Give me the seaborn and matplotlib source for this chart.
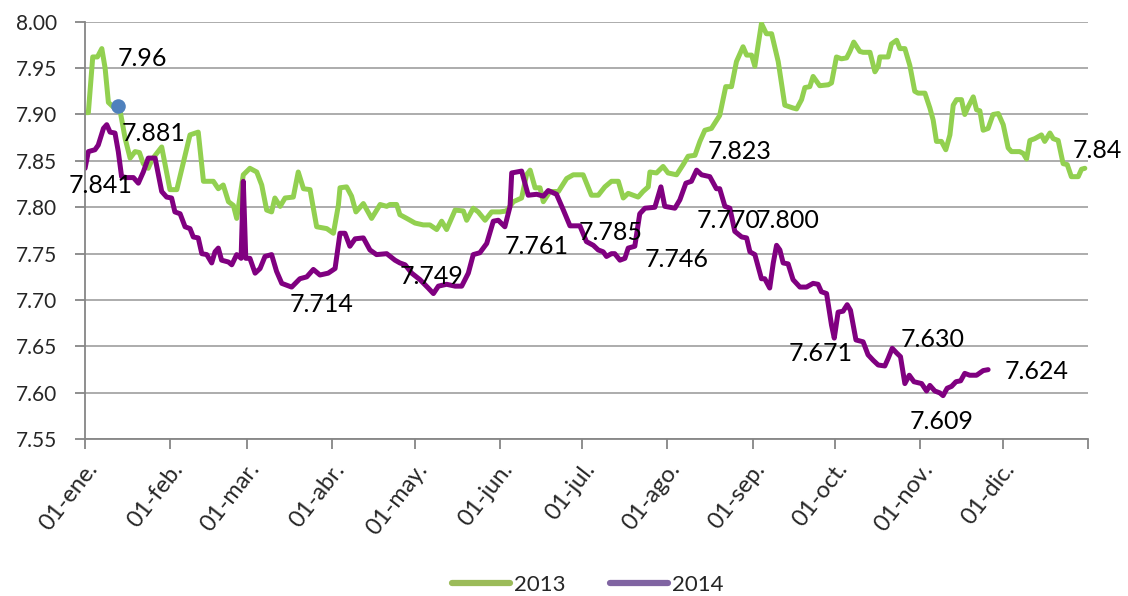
import matplotlib

matplotlib.use("Agg")

import matplotlib.pyplot as plt
import pandas as pd
import seaborn as sns
from matplotlib.lines import Line2D

# day of year (0 = 01-ene.) and value
DAYS_2013 = [
    0, 1.2, 2.8, 4.5, 6.1, 7.3, 8.5, 10.3, 12.7, 14.6, 16.4, 18.2, 19.8, 21.2,
    23.0, 24.5, 27.9, 30.9, 33.4, 38.2, 41.2, 43.1, 46.7, 48.5, 50.3, 52.2,
    54.0, 55.2, 57.6, 60.0, 62.5, 64.3, 66.1, 67.9, 69.1, 71.0, 72.8, 75.8,
    77.6, 79.5, 81.9, 84.3, 88.0, 90.4, 92.2, 92.8, 95.2, 97.0, 98.6, 101.3,
    104.3, 107.4, 109.8, 111.0, 113.4, 114.6, 117.1, 120.1, 123.1, 125.5,
    128.0, 129.8, 131.6, 134.7, 137.7, 138.9, 141.3, 143.1, 145.6, 148.0,
    151.0, 153.4, 155.9, 158.9, 160.7, 162.0, 163.8, 165.6, 166.8, 169.2,
    172.3, 175.3, 177.7, 181.3, 184.3, 186.8, 189.2, 191.6, 194.1, 195.9,
    197.7, 201.3, 203.1, 205.0, 205.6, 208.0, 210.4, 212.2, 215.3, 217.7,
    219.5, 222.0, 223.8, 225.6, 228.0, 231.0, 233.2, 235.3, 237.1, 239.5,
    240.8, 242.6, 243.8, 246.2, 248.0, 249.9, 252.3, 254.7, 257.7, 259.0,
    260.8, 262.0, 263.8, 265.0, 267.4, 270.5, 271.7, 273.5, 275.3, 277.2,
    278.4, 279.8, 282.0, 283.2, 285.7, 287.5, 288.7, 289.3, 292.3, 293.5,
    295.4, 296.6, 298.4, 300.2, 302.0, 303.2, 305.7, 307.5, 308.7, 309.9,
    311.7, 313.3, 314.8, 316.0, 317.2, 319.0, 320.2, 321.4, 323.3, 324.5,
    325.7, 326.9, 328.7, 330.5, 332.4, 334.2, 336.0, 337.2, 340.2, 341.5,
    342.7, 343.9, 345.7, 348.1, 349.3, 351.2, 352.4, 354.2, 356.0, 357.5,
    359.0, 361.5, 362.7, 363.9,
]
VALUES_2013 = [
    7.902, 7.902, 7.962, 7.962, 7.971, 7.950, 7.913, 7.908, 7.905, 7.874,
    7.853, 7.860, 7.859, 7.847, 7.842, 7.852, 7.865, 7.819, 7.819, 7.878,
    7.881, 7.828, 7.828, 7.820, 7.824, 7.806, 7.802, 7.788, 7.835, 7.842,
    7.838, 7.824, 7.797, 7.795, 7.810, 7.801, 7.810, 7.811, 7.838, 7.820,
    7.819, 7.779, 7.777, 7.772, 7.802, 7.821, 7.822, 7.812, 7.795, 7.804,
    7.788, 7.803, 7.801, 7.803, 7.803, 7.792, 7.788, 7.783, 7.781, 7.781,
    7.776, 7.785, 7.776, 7.797, 7.796, 7.786, 7.799, 7.795, 7.786, 7.795,
    7.795, 7.796, 7.806, 7.810, 7.835, 7.840, 7.821, 7.821, 7.806, 7.817,
    7.817, 7.831, 7.835, 7.835, 7.813, 7.813, 7.822, 7.828, 7.828, 7.810,
    7.815, 7.811, 7.817, 7.822, 7.838, 7.837, 7.844, 7.837, 7.835, 7.846,
    7.855, 7.856, 7.871, 7.883, 7.885, 7.899, 7.930, 7.930, 7.957, 7.973,
    7.964, 7.964, 7.952, 7.998, 7.987, 7.987, 7.957, 7.910, 7.907, 7.906,
    7.916, 7.929, 7.930, 7.941, 7.931, 7.932, 7.934, 7.962, 7.960, 7.961,
    7.968, 7.978, 7.968, 7.967, 7.967, 7.946, 7.952, 7.962, 7.962, 7.976,
    7.980, 7.971, 7.971, 7.953, 7.925, 7.923, 7.923, 7.907, 7.894, 7.871,
    7.871, 7.862, 7.878, 7.910, 7.916, 7.916, 7.900, 7.908, 7.919, 7.905,
    7.904, 7.883, 7.885, 7.900, 7.901, 7.889, 7.864, 7.860, 7.860, 7.858,
    7.852, 7.872, 7.874, 7.878, 7.871, 7.880, 7.874, 7.872, 7.847, 7.846,
    7.833, 7.833, 7.841, 7.842,
]

DAYS_2014 = [
    0, 1.2, 3.6, 4.8, 6.7, 7.9, 9.1, 10.9, 12.1, 13.3, 15.2, 17.6, 19.4, 21.2,
    23.0, 25.5, 27.9, 29.7, 31.5, 32.7, 34.6, 36.4, 38.2, 39.4, 41.2, 42.5,
    44.3, 46.1, 47.3, 48.5, 49.7, 52.2, 53.4, 55.2, 56.8, 57.6, 58.5, 60.0,
    61.9, 63.7, 65.5, 67.9, 69.7, 71.6, 75.2, 78.2, 80.7, 83.1, 85.5, 88.5,
    91.0, 92.8, 94.6, 96.4, 98.3, 101.3, 103.7, 106.1, 109.8, 112.8, 114.6,
    116.5, 118.9, 121.9, 124.9, 126.8, 128.6, 131.6, 134.7, 137.1, 139.5,
    141.3, 143.7, 146.2, 148.6, 150.4, 152.8, 154.7, 155.3, 158.9, 161.3,
    164.4, 166.8, 168.6, 171.6, 174.1, 176.5, 180.1, 182.5, 185.0, 186.8,
    188.6, 189.8, 191.6, 192.8, 194.7, 196.5, 197.7, 200.1, 201.9, 203.8,
    207.4, 209.6, 211.0, 214.7, 216.5, 218.7, 220.7, 222.6, 224.4, 227.4,
    229.8, 231.0, 232.9, 234.7, 236.5, 239.0, 240.8, 242.0, 243.8, 246.2,
    247.4, 249.2, 250.5, 251.7, 252.9, 254.1, 255.9, 257.7, 260.2, 262.6,
    265.0, 266.8, 268.0, 269.9, 271.7, 272.7, 274.1, 275.9, 277.4, 278.6,
    280.6, 283.2, 285.0, 286.9, 288.7, 291.1, 292.3, 293.8, 295.4, 296.8,
    298.4, 300.0, 301.7, 304.5, 306.3, 307.5, 309.3, 311.1, 312.3, 313.8,
    315.4, 317.0, 318.7, 320.2, 322.0, 324.5, 326.9, 328.7,
]
VALUES_2014 = [
    7.842, 7.860, 7.862, 7.867, 7.885, 7.889, 7.881, 7.880, 7.860, 7.833,
    7.832, 7.832, 7.826, 7.838, 7.853, 7.853, 7.817, 7.811, 7.810, 7.795,
    7.793, 7.779, 7.777, 7.768, 7.767, 7.750, 7.749, 7.740, 7.752, 7.756,
    7.743, 7.741, 7.738, 7.749, 7.745, 7.828, 7.745, 7.745, 7.729, 7.734,
    7.747, 7.749, 7.731, 7.718, 7.714, 7.723, 7.725, 7.733, 7.727, 7.729,
    7.734, 7.772, 7.772, 7.758, 7.766, 7.767, 7.754, 7.749, 7.750, 7.743,
    7.740, 7.738, 7.729, 7.722, 7.713, 7.707, 7.715, 7.717, 7.715, 7.715,
    7.729, 7.749, 7.751, 7.761, 7.785, 7.786, 7.779, 7.801, 7.837, 7.839,
    7.813, 7.814, 7.812, 7.818, 7.814, 7.797, 7.780, 7.780, 7.763, 7.759,
    7.754, 7.752, 7.747, 7.750, 7.750, 7.743, 7.745, 7.756, 7.758, 7.793,
    7.799, 7.800, 7.822, 7.801, 7.799, 7.808, 7.826, 7.828, 7.840, 7.835,
    7.833, 7.820, 7.820, 7.801, 7.799, 7.774, 7.768, 7.767, 7.752, 7.749,
    7.723, 7.723, 7.713, 7.740, 7.759, 7.754, 7.740, 7.739, 7.722, 7.714,
    7.714, 7.718, 7.717, 7.709, 7.707, 7.673, 7.659, 7.687, 7.688, 7.695,
    7.689, 7.657, 7.655, 7.641, 7.635, 7.630, 7.629, 7.637, 7.648, 7.643,
    7.639, 7.610, 7.619, 7.612, 7.610, 7.602, 7.608, 7.602, 7.600, 7.597,
    7.605, 7.607, 7.612, 7.613, 7.621, 7.619, 7.619, 7.624, 7.625,
]

MARKER_DAY = 12.0
MARKER_VALUE = 7.909

MONTH_STARTS = [0, 31, 59, 90, 120, 151, 181, 212, 243, 273, 304, 334]
MONTH_LABELS = [
    "01-ene.", "01-feb.", "01-mar.", "01-abr.", "01-may.", "01-jun.",
    "01-jul.", "01-ago.", "01-sep.", "01-oct.", "01-nov.", "01-dic.",
]
Y_TICKS = [7.55, 7.60, 7.65, 7.70, 7.75, 7.80, 7.85, 7.90, 7.95, 8.00]

LABEL_TEXTS = [
    "7.96", "7.881", "7.841", "7.714", "7.749", "7.761", "7.785", "7.746",
    "7.823", "7.770", "7.800", "7.671", "7.630", "7.609", "7.624", "7.84",
]
# label centres (day, value) as placed in the reference
LABEL_SPOTS = [
    (20.7, 7.960), (25.1, 7.879), (5.8, 7.824), (86.2, 7.695),
    (126.3, 7.725), (164.5, 7.758), (191.4, 7.773), (215.4, 7.744),
    (238.4, 7.860), (234.4, 7.786), (255.8, 7.786), (267.8, 7.642),
    (308.6, 7.658), (311.9, 7.569), (346.5, 7.623), (368.6, 7.861),
]

LINE_COLORS = {"2013": "#92D050", "2014": "#800080"}
LEGEND_COLORS = {"2013": "#9BBB59", "2014": "#8064A2"}
AXIS_GRAY = "#868686"

sns.set_style("white")
plt.rcParams["font.family"] = ["Lato", "DejaVu Sans"]

df = pd.concat(
    [
        pd.DataFrame({"day": DAYS_2013, "value": VALUES_2013, "year": "2013"}),
        pd.DataFrame({"day": DAYS_2014, "value": VALUES_2014, "year": "2014"}),
    ],
    ignore_index=True,
)

fig = plt.figure(figsize=(11.28, 5.96), dpi=100)
ax = fig.add_axes([0.0754, 0.263, 0.889, 0.7006])

sns.lineplot(
    data=df, x="day", y="value", hue="year", palette=LINE_COLORS,
    estimator=None, linewidth=3.6, legend=False, ax=ax,
)
ax.scatter([MARKER_DAY], [MARKER_VALUE], s=110, color="#4F81BD", zorder=5,
           linewidths=0)

for text, (dx, dy) in zip(LABEL_TEXTS, LABEL_SPOTS):
    ax.text(dx, dy, text, ha="center", va="center", fontsize=18,
            color="black", clip_on=False)

ax.set_xlim(0, 365)
ax.set_ylim(7.55, 8.00)
ax.set_yticks(Y_TICKS, labels=[f"{v:.2f}" for v in Y_TICKS])
ax.set_xticks(MONTH_STARTS, labels=MONTH_LABELS, rotation=52, ha="right",
              rotation_mode="anchor")
ax.set_xticks([365], minor=True)
ax.set_xlabel("")
ax.set_ylabel("")

ax.yaxis.grid(True, color="#A6A6A6", linewidth=1.3)
ax.xaxis.grid(False)
ax.set_axisbelow(True)
for side in ["top", "right"]:
    ax.spines[side].set_visible(False)
for side in ["left", "bottom"]:
    ax.spines[side].set_color(AXIS_GRAY)
    ax.spines[side].set_linewidth(1.3)

ax.tick_params(axis="y", which="major", length=7, width=1.3, color=AXIS_GRAY,
               labelsize=15, pad=13, left=True)
ax.tick_params(axis="x", which="both", length=7, width=1.3, color=AXIS_GRAY,
               labelsize=17, pad=7, bottom=True)

handles = [
    Line2D([0], [0], color=LEGEND_COLORS[k], linewidth=4.5, solid_capstyle="round")
    for k in ["2013", "2014"]
]
fig.legend(
    handles, ["2013", "2014"], loc="center", bbox_to_anchor=(0.521, 0.018),
    ncol=2, frameon=False, fontsize=16, handlelength=2.6, handletextpad=0.2,
    columnspacing=2.0,
)

fig.savefig("out.png", dpi=100)
plt.close(fig)
